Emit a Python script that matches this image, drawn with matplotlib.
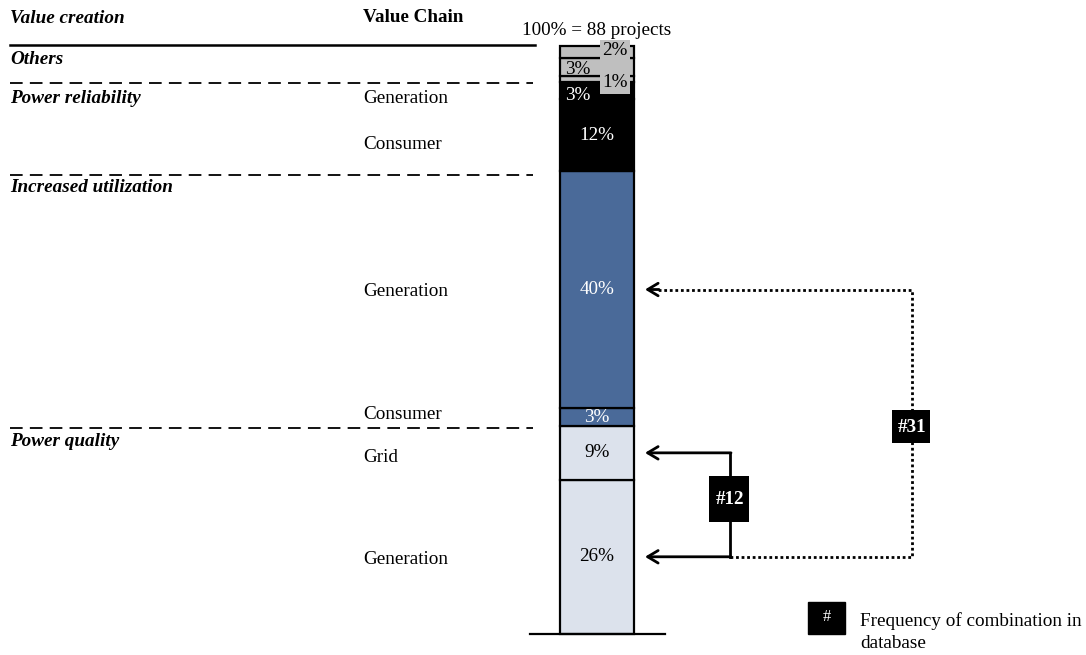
import matplotlib
matplotlib.use("Agg")
import matplotlib.pyplot as plt
from matplotlib.patches import Rectangle

plt.rcParams["font.family"] = ["Liberation Serif", "DejaVu Serif"]

# Stacked shares (bottom to top)
segment_values = [26, 9, 3, 40, 12, 3, 1, 3, 2]
segment_groups = ["Power quality", "Power quality", "Increased utilization",
                  "Increased utilization", "Power reliability", "Power reliability",
                  "Others", "Others", "Others"]
total_projects = 88
combo_counts = {"quality_grid_generation": 12, "quality_utilization_generation": 31}

group_colors = {
    "Power quality": "#DCE2EC",
    "Increased utilization": "#4A6A99",
    "Power reliability": "#000000",
    "Others": "#BFBFBF",
}
label_colors = {
    "Power quality": "black",
    "Increased utilization": "white",
    "Power reliability": "white",
    "Others": "black",
}

W, H = 1086, 655
fig = plt.figure(figsize=(W / 100, H / 100), dpi=100)
ax = fig.add_axes([0, 0, 1, 1])

# vertical scale: bar spans pixel rows 634 (0%) to 46 (top of stack)
bar_bottom_px, bar_top_px = 634, 46
top_val = sum(segment_values)
s = top_val / (bar_bottom_px - bar_top_px)


def Y(p):
    return (bar_bottom_px - p) * s


ax.set_xlim(0, W)
ax.set_ylim(Y(H), Y(0))
ax.axis("off")

bar_x, bar_w = 597, 74
FS = 13.8

bottoms = []
acc = 0
for v in segment_values:
    bottoms.append(acc)
    acc += v

ax.bar([bar_x] * len(segment_values), segment_values, width=bar_w, bottom=bottoms,
       color=[group_colors[g] for g in segment_groups], edgecolor="black",
       linewidth=1.6, zorder=2)

centers = [b + v / 2 for b, v in zip(bottoms, segment_values)]

# segment labels; the thin top segments get shifted labels
# (index -> x offset, y offset in percentage points, boxed)
shifted = {8: (18, 0.2, True), 7: (-19, -0.5, False), 6: (18, -0.7, True),
           5: (-19, -0.75, False)}
for i, (v, c, g) in enumerate(zip(segment_values, centers, segment_groups)):
    txt = f"{v}%"
    dx, dy, boxed = shifted.get(i, (0, 0, False))
    kw = {}
    if boxed:
        kw["bbox"] = dict(boxstyle="square,pad=0.12", fc=group_colors[g], ec="none")
    ax.text(bar_x + dx, c + dy, txt, ha="center", va="center", fontsize=FS,
            color=label_colors[g], zorder=4, **kw)

ax.text(bar_x, Y(30), f"100% = {total_projects} projects", ha="center",
        va="center", fontsize=FS)

# baseline
ax.plot([530, 665], [0, 0], color="black", lw=1.6, zorder=3)

# left-hand table
ax.text(10, Y(18), "Value creation", fontsize=FS, fontweight="bold",
        style="italic", va="center")
ax.text(363, Y(17), "Value Chain", fontsize=FS, fontweight="bold", va="center")
ax.plot([10, 535], [Y(45), Y(45)], color="black", lw=1.8)

rows = [
    ("Others", 59, None, None),
    ("Power reliability", 98, "Generation", 98),
    (None, None, "Consumer", 144),
    ("Increased utilization", 187, "Generation", 291),
    (None, None, "Consumer", 414),
    ("Power quality", 441, "Grid", 457),
    (None, None, "Generation", 560),
]
for grp, gy, chain, cy in rows:
    if grp:
        ax.text(10, Y(gy), grp, fontsize=FS, fontweight="bold", style="italic",
                va="center")
    if chain:
        ax.text(363, Y(cy), chain, fontsize=FS, va="center")

for dy in [83, 175, 428]:
    ax.plot([10, 533], [Y(dy), Y(dy)], color="black", lw=1.3,
            linestyle=(0, (7, 4)))

arrow_style = "->,head_length=0.75,head_width=0.45"

# connector #12: grid <-> generation
y_grid, y_gen = centers[1], centers[0]
tip_x, vx12 = 645, 730
ax.plot([vx12, vx12], [y_grid, y_gen], color="black", lw=2, zorder=3)
for yy in (y_grid, y_gen):
    ax.annotate("", xy=(tip_x, yy), xytext=(vx12 + 1, yy),
                arrowprops=dict(arrowstyle=arrow_style, lw=2, color="black",
                                shrinkA=0, shrinkB=0))
ax.add_patch(Rectangle((709, Y(522)), 40, Y(476) - Y(522), fc="black",
                       ec="none", zorder=4))
ax.text(vx12, Y(499), f"#{combo_counts['quality_grid_generation']}", ha="center",
        va="center", color="white", fontweight="bold", fontsize=FS, zorder=5)

# connector #31: power-quality generation <-> increased-utilization generation
y_util = centers[3]
vx31 = 912
ax.plot([vx12, vx31, vx31, tip_x + 12], [y_gen, y_gen, y_util, y_util],
        color="black", lw=2, linestyle=(0, (1, 1)), zorder=3)
ax.annotate("", xy=(tip_x, y_util), xytext=(tip_x + 14, y_util),
            arrowprops=dict(arrowstyle=arrow_style, lw=2, color="black",
                            shrinkA=0, shrinkB=0))
ax.add_patch(Rectangle((892, Y(443)), 38, Y(410) - Y(443), fc="black",
                       ec="none", zorder=4))
ax.text(vx31, Y(427), f"#{combo_counts['quality_utilization_generation']}",
        ha="center", va="center", color="white", fontweight="bold",
        fontsize=FS, zorder=5)

# key
ax.add_patch(Rectangle((808, Y(634)), 37, Y(602) - Y(634), fc="black",
                       ec="black", zorder=3))
ax.text(826.5, Y(617), "#", color="white", ha="center", va="center",
        fontsize=FS - 2, zorder=4)
ax.text(860, Y(621), "Frequency of combination in", fontsize=FS,
        va="center")
ax.text(860, Y(643), "database", fontsize=FS, va="center")

fig.savefig("out.png", dpi=100)
